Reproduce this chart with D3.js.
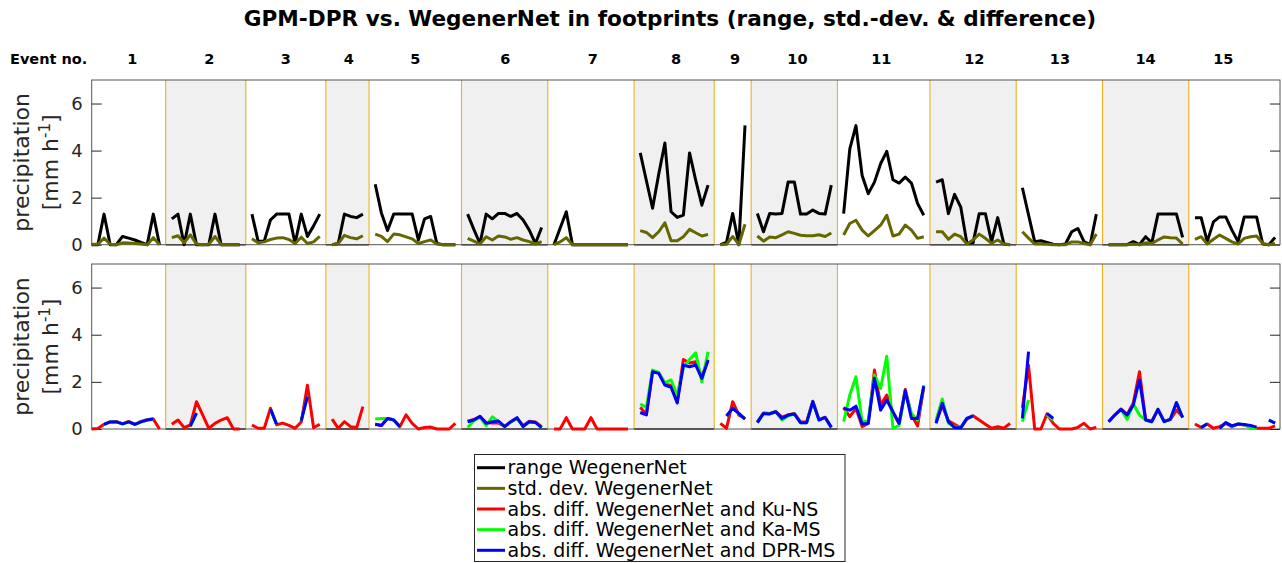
<!DOCTYPE html>
<html>
<head>
<meta charset="utf-8">
<script src="https://cdn.jsdelivr.net/npm/d3@7"></script>
<style>
  html, body { margin: 0; padding: 0; background: #fff; }
  svg { display: block; font-family: "DejaVu Sans", sans-serif; }
</style>
</head>
<body>
<svg id="chart" width="1282" height="563"></svg>
<script>
const n = null;
const eventNames = ["1","2","3","4","5","6","7","8","9","10","11","12","13","14","15"];
const eventCenter = [6.6, 19.1, 31.5, 41.7, 52.5, 67.1, 81.3, 94.8, 104.4, 114.5, 128.1, 143.2, 157.1, 171, 183.6];
const yTicks = [0, 2, 4, 6];

const rangeWN = [
  [0, 0, 1.3, 0, 0, 0.35, 0.28, 0.2, 0.1, 0, 1.3, 0],
  [1.1, 1.3, 0, 1.3, 0, 0, 0, 1.3, 0, 0, 0, 0],
  [1.3, 0.15, 0.15, 1.05, 1.3, 1.3, 1.3, 0.05, 1.3, 0.35, 0.8, 1.3],
  [0, 0.05, 1.3, 1.2, 1.15, 1.3],
  [2.57, 1.35, 0.6, 1.3, 1.3, 1.3, 1.3, 0.2, 1.1, 1.2, 0.05, 0, 0, 0],
  [1.3, 0.65, 0.05, 1.3, 1.1, 1.33, 1.33, 1.2, 1.33, 1.05, 0.62, 0.05, 0.73],
  [0, 0.7, 1.4, 0, 0, 0, 0, 0, 0, 0, 0, 0, 0],
  [3.9, 2.72, 1.55, 3.0, 4.32, 1.4, 1.16, 1.26, 3.9, 2.74, 1.68, 2.53],
  [0, 0.1, 1.33, 0, 5.07],
  [1.33, 0.55, 1.33, 1.3, 1.33, 2.67, 2.67, 1.3, 1.3, 1.47, 1.33, 1.3, 2.53],
  [1.32, 4.07, 5.06, 2.94, 2.17, 2.66, 3.44, 3.97, 2.76, 2.62, 2.87, 2.62, 1.75, 1.25],
  [2.66, 2.76, 1.32, 2.14, 1.6, 0.06, 0.08, 1.32, 1.32, 0.13, 1.15, 0.03, 0],
  [2.42, 1.27, 0.13, 0.17, 0.1, 0.02, 0, 0.03, 0.55, 0.69, 0.13, 0, 1.3],
  [0, 0, 0, 0, 0.13, 0, 0.34, 0.08, 1.3, 1.3, 1.3, 1.3, 0.31],
  [1.15, 1.15, 0.13, 0.97, 1.18, 1.18, 0.62, 0.13, 1.18, 1.18, 1.18, 0.03, 0, 0.31]
];

const stdWN = [
  [0.02, 0.02, 0.28, 0.02, 0, 0.08, 0.07, 0.05, 0.03, 0, 0.3, 0],
  [0.3, 0.38, 0.08, 0.42, 0.03, 0, 0.02, 0.35, 0, 0, 0, 0],
  [0.25, 0.08, 0.12, 0.22, 0.28, 0.3, 0.22, 0.05, 0.32, 0.05, 0.12, 0.35],
  [0, 0.05, 0.4, 0.3, 0.25, 0.38],
  [0.45, 0.35, 0.13, 0.45, 0.42, 0.33, 0.25, 0.05, 0.13, 0.2, 0.03, 0, 0, 0],
  [0.27, 0.15, 0.03, 0.34, 0.2, 0.37, 0.33, 0.23, 0.3, 0.2, 0.13, 0.03, 0.13],
  [0, 0.12, 0.3, 0, 0, 0, 0, 0, 0, 0, 0, 0, 0],
  [0.6, 0.52, 0.3, 0.55, 0.93, 0.17, 0.17, 0.34, 0.65, 0.51, 0.37, 0.44],
  [0, 0.02, 0.35, 0, 0.87],
  [0.37, 0.15, 0.33, 0.3, 0.42, 0.55, 0.48, 0.4, 0.38, 0.38, 0.42, 0.35, 0.5],
  [0.41, 0.9, 1.04, 0.62, 0.37, 0.6, 0.83, 1.25, 0.37, 0.45, 0.83, 0.62, 0.27, 0.34],
  [0.55, 0.55, 0.23, 0.45, 0.34, 0.03, 0.2, 0.45, 0.27, 0.06, 0.2, 0.03, 0],
  [0.55, 0.28, 0.03, 0.03, 0.02, 0, 0, 0, 0.12, 0.12, 0.05, 0, 0.45],
  [0, 0, 0, 0, 0.03, 0, 0.08, 0.05, 0.2, 0.33, 0.3, 0.28, 0.03],
  [0.23, 0.34, 0.03, 0.23, 0.41, 0.27, 0.12, 0.03, 0.27, 0.34, 0.37, 0.05, 0, 0.05]
];

const diffKuNS = [
  [0, 0.02, 0.2, 0.3, 0.32, 0.22, 0.32, 0.2, 0.32, 0.4, 0.42, 0],
  [0.2, 0.38, 0.06, 0.17, 1.16, 0.6, 0.03, 0.24, 0.38, 0.48, 0, 0],
  [0.17, 0.03, 0.03, 0.88, 0.18, 0.25, 0.15, 0.03, 0.3, 1.86, 0.05, 0.2],
  [0.42, 0.03, 0.31, 0.1, 0.06, 0.95],
  [0.2, 0.15, 0.45, 0.38, 0.1, 0.6, 0.24, 0, 0.06, 0.08, 0, 0, 0, 0.24],
  [0.33, 0.4, 0.52, 0.27, 0.25, 0.25, 0.12, 0.3, 0.45, 0.15, 0.33, 0.3, 0.1],
  [0, 0, 0.48, 0, 0, 0, 0.48, 0, 0, 0, 0, 0, 0],
  [0.92, 0.62, 2.45, 2.38, 1.9, 1.85, 1.15, 2.95, 2.8, 2.85, 2.2, 2.95],
  [0.24, 0.03, 1.16, 0.59, 0.45],
  [0.3, 0.68, 0.66, 0.74, 0.5, 0.6, 0.66, 0.3, 0.3, 1.18, 0.4, 0.5, 0.08],
  [0.92, 0.52, 0.88, 0.1, 0.24, 2.5, 1.02, 1.44, 0.7, 0.22, 1.68, 0.6, 0.13, 1.77],
  [0.3, 1.0, 0.35, 0.2, 0.05, 0.42, 0.56, 0.38, 0.2, 0.03, 0.1, 0.03, 0.24],
  [0.9, 2.7, 0, 0, 0.64, 0.24, 0, 0, 0, 0.07, 0.24, 0, 0.07],
  [0.31, 0.6, 0.85, 0.62, 1.1, 2.43, 0.4, 0.33, 0.83, 0.33, 0.4, 0.8, 0.52],
  [0.21, 0.07, 0.21, 0.03, 0.1, 0.24, 0.1, 0.21, 0.17, 0.13, 0.03, 0.03, 0.03, 0.13]
];

const diffKaMS = [
  [n, n, 0.2, 0.3, 0.3, 0.22, 0.3, 0.2, 0.3, 0.38, 0.42, n],
  [n, n, n, 0.12, 0.67, n, n, n, n, n, n, n],
  [n, n, n, 0.85, 0.2, n, n, n, 0.35, 1.37, n, n],
  [n, n, n, n, n, n],
  [0.42, 0.45, 0.45, 0.38, 0.1, n, n, n, n, n, n, n, n, n],
  [0.06, 0.35, 0.5, 0.14, 0.52, 0.3, 0.1, 0.3, 0.45, 0.12, 0.3, 0.28, 0.06],
  [n, n, n, n, n, n, n, n, n, n, n, n, n],
  [1.06, 0.92, 2.5, 2.4, 1.96, 2.08, 1.44, 2.6, 2.95, 3.23, 2.0, 3.28],
  [n, 0.55, 0.88, 0.66, 0.42],
  [0.27, 0.66, 0.64, 0.73, 0.38, 0.55, 0.64, 0.27, 0.27, 1.16, 0.38, 0.49, 0.07],
  [0.31, 1.44, 2.22, 0.31, 0.35, 2.29, 1.72, 3.09, 0.03, 0.15, 1.58, 0.66, 0.38, 1.86],
  [0.38, 1.27, 0.25, 0.1, 0.05, 0.45, 0.56, n, n, n, n, n, n],
  [0.31, 1.23, n, n, 0.6, 0.38, n, n, n, n, n, n, n],
  [0.31, 0.59, 0.83, 0.41, 1.06, 0.59, 0.38, 0.31, 0.83, 0.31, 0.41, 1.12, 0.48],
  [n, 0.05, 0.22, n, 0.03, 0.27, 0.13, 0.21, 0.19, 0.03, 0.02, n, 0.38, 0.25]
];

const diffDPRMS = [
  [n, n, 0.2, 0.3, 0.3, 0.22, 0.3, 0.2, 0.3, 0.38, 0.42, n],
  [n, n, n, 0.12, 0.67, n, n, n, n, n, n, n],
  [n, n, n, 0.85, 0.2, n, n, n, 0.35, 1.37, n, n],
  [n, n, n, n, n, n],
  [0.2, 0.15, 0.45, 0.38, 0.1, n, n, n, n, n, n, n, n, n],
  [0.31, 0.38, 0.54, 0.24, 0.31, 0.34, 0.1, 0.31, 0.48, 0.1, 0.31, 0.28, 0.06],
  [n, n, n, n, n, n, n, n, n, n, n, n, n],
  [0.7, 0.6, 2.43, 2.36, 1.86, 1.77, 1.1, 2.71, 2.64, 2.71, 2.15, 2.92],
  [n, 0.55, 0.88, 0.66, 0.42],
  [0.27, 0.66, 0.64, 0.73, 0.45, 0.59, 0.64, 0.27, 0.27, 1.16, 0.38, 0.49, 0.07],
  [0.88, 0.8, 0.97, 0.21, 0.24, 2.15, 0.8, 1.23, 0.73, 0.24, 1.62, 0.45, 0.45, 1.82],
  [0.24, 1.09, 0.31, 0.06, 0.05, 0.45, 0.56, n, n, n, n, n, n],
  [0.45, 3.28, n, n, 0.66, 0.45, n, n, n, n, n, n, n],
  [0.31, 0.59, 0.83, 0.59, 1.02, 2.08, 0.38, 0.31, 0.83, 0.31, 0.41, 1.12, 0.48],
  [n, 0.05, 0.22, n, 0.03, 0.27, 0.13, 0.21, 0.19, 0.15, 0.08, n, 0.38, 0.25]
];

const legendLabels = [
  "range WegenerNet",
  "std. dev. WegenerNet",
  "abs. diff. WegenerNet and Ku-NS",
  "abs. diff. WegenerNet and Ka-MS",
  "abs. diff. WegenerNet and DPR-MS"
];
const seriesColors = ["#000000", "#666600", "#ff0000", "#00ff00", "#0000ff"];

// ---------- flatten events, with a gap (null) between events ----------
function flatten(events) {
  const out = [];
  events.forEach((ev, k) => {
    ev.forEach(v => out.push(v));
    if (k < events.length - 1) out.push(null);
  });
  return out;
}
const separators = [];
{
  let c = 0;
  rangeWN.forEach((ev, k) => { c += ev.length; if (k < rangeWN.length - 1) { separators.push(c); c += 1; } });
}
const nPts = flatten(rangeWN).length;

const svg = d3.select("#chart");
const xLeft = 91.7, xRight = 1280;
const panels = [
  { top: 80, bottom: 244.7, series: [rangeWN, stdWN], colors: [seriesColors[0], seriesColors[1]] },
  { top: 264, bottom: 429, series: [diffKuNS, diffKaMS, diffDPRMS], colors: [seriesColors[2], seriesColors[3], seriesColors[4]] }
];

const x = d3.scaleLinear().domain([0, nPts - 0.2]).range([xLeft, xRight]);
const bounds = [0, ...separators, nPts - 0.2];

// Title
svg.append("text")
  .attr("x", 670).attr("y", 26)
  .attr("text-anchor", "middle")
  .attr("font-weight", "bold").attr("font-size", 21.6)
  .attr("fill", "#000")
  .text("GPM-DPR vs. WegenerNet in footprints (range, std.-dev. & difference)");

// Event labels
svg.append("text")
  .attr("x", 10).attr("y", 64)
  .attr("font-weight", "bold").attr("font-size", 14.5)
  .attr("fill", "#000")
  .text("Event no.");
svg.selectAll("text.ev").data(eventNames).enter().append("text")
  .attr("class", "ev")
  .attr("x", (d, i) => x(eventCenter[i]))
  .attr("y", 64)
  .attr("text-anchor", "middle")
  .attr("font-weight", "bold").attr("font-size", 14.5)
  .attr("fill", "#000")
  .text(d => d);

panels.forEach((p, pi) => {
  const y = d3.scaleLinear().domain([0, 7]).range([p.bottom, p.top]);
  const g = svg.append("g");

  // shaded (even-numbered) events
  for (let k = 1; k < eventNames.length; k += 2) {
    g.append("rect")
      .attr("x", x(bounds[k])).attr("y", y(7))
      .attr("width", x(bounds[k + 1]) - x(bounds[k]))
      .attr("height", y(0) - y(7))
      .attr("fill", "#f0f0f0");
    g.append("line")
      .attr("x1", x(bounds[k])).attr("x2", x(bounds[k + 1]))
      .attr("y1", y(0)).attr("y2", y(0))
      .attr("stroke", "#262626").attr("stroke-width", 1.6);
  }
  // event boundaries
  g.selectAll("line.sep").data(separators).enter().append("line")
    .attr("class", "sep")
    .attr("x1", d => x(d)).attr("x2", d => x(d))
    .attr("y1", y(7)).attr("y2", y(0))
    .attr("stroke", "#EDB120").attr("stroke-width", 1.1);

  // axes box
  g.append("rect")
    .attr("x", xLeft).attr("y", p.top)
    .attr("width", xRight - xLeft).attr("height", p.bottom - p.top)
    .attr("fill", "none").attr("stroke", "#555").attr("stroke-width", 1);

  // y axes (inward ticks)
  const axL = g.append("g").attr("transform", `translate(${xLeft},0)`)
    .call(d3.axisLeft(y).tickValues(yTicks).tickSize(-10).tickPadding(9).tickFormat(d3.format("d")));
  axL.select(".domain").remove();
  axL.selectAll("line").attr("stroke", "#262626");
  axL.selectAll("text").attr("font-size", 18).attr("fill", "#262626")
    .attr("font-family", "DejaVu Sans, sans-serif");
  const axR = g.append("g").attr("transform", `translate(${xRight},0)`)
    .call(d3.axisRight(y).tickValues(yTicks).tickSize(-10).tickFormat(""));
  axR.select(".domain").remove();
  axR.selectAll("line").attr("stroke", "#262626");

  // y label (two lines)
  const cy = (p.top + p.bottom) / 2;
  g.append("text")
    .attr("transform", `translate(29,${cy}) rotate(-90)`)
    .attr("text-anchor", "middle").attr("font-size", 22).attr("fill", "#262626")
    .text("precipitation");
  const t2 = g.append("text")
    .attr("transform", `translate(58,${cy}) rotate(-90)`)
    .attr("text-anchor", "middle").attr("font-size", 22).attr("fill", "#262626");
  t2.append("tspan").text("[mm h");
  t2.append("tspan").attr("dy", -8).attr("font-size", 15).text("-1");
  t2.append("tspan").attr("dy", 8).text("]");

  // clip
  const clipId = "clip" + pi;
  svg.append("clipPath").attr("id", clipId).append("rect")
    .attr("x", xLeft - 2).attr("y", p.top).attr("width", xRight - xLeft + 4).attr("height", p.bottom - p.top + 3);

  const line = d3.line()
    .defined(d => d.v !== null)
    .x(d => x(d.i)).y(d => y(d.v));

  p.series.forEach((s, si) => {
    const data = flatten(s).map((v, i) => ({ i, v }));
    g.append("path")
      .datum(data)
      .attr("clip-path", `url(#${clipId})`)
      .attr("fill", "none")
      .attr("stroke", p.colors[si])
      .attr("stroke-width", 3)
      .attr("stroke-linejoin", "round")
      .attr("d", line);
  });
});

// Legend
const lg = svg.append("g");
lg.append("rect")
  .attr("x", 474.5).attr("y", 454.5).attr("width", 370.5).attr("height", 107)
  .attr("fill", "#fff").attr("stroke", "#262626").attr("stroke-width", 1);
const rowY = d3.scaleLinear().domain([0, 4]).range([467.7, 550.3]);
legendLabels.forEach((lab, i) => {
  lg.append("line")
    .attr("x1", 477).attr("x2", 505)
    .attr("y1", rowY(i)).attr("y2", rowY(i))
    .attr("stroke", seriesColors[i]).attr("stroke-width", 3);
  lg.append("text")
    .attr("x", 507.5).attr("y", rowY(i))
    .attr("dy", "0.35em")
    .attr("font-size", 19).attr("fill", "#000")
    .text(lab);
});
</script>
</body>
</html>
